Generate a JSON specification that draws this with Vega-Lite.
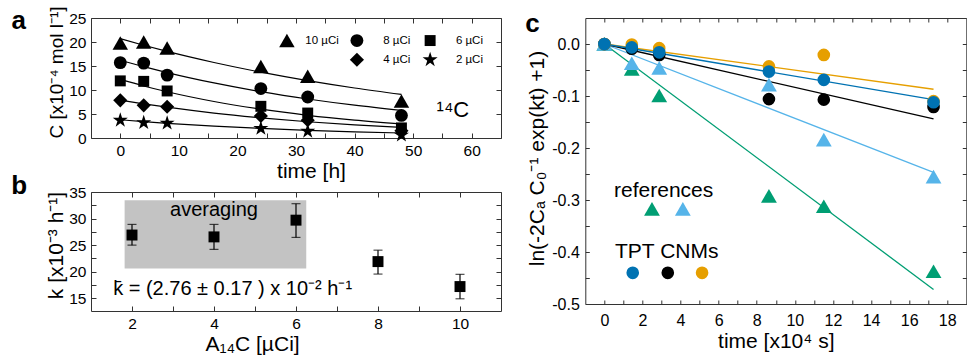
{
  "$schema": "https://vega.github.io/schema/vega-lite/v6.json",
  "padding": {"left": 10, "top": 5, "right": 0, "bottom": 0},
  "background": "white",
  "config": {
    "font": "Liberation Sans",
    "view": {"stroke": "#333", "strokeWidth": 1},
    "axis": {
      "grid": false, "domain": false, "tickColor": "#333", "tickSize": -5, "tickWidth": 1,
      "labelPadding": 10, "labelFont": "Liberation Sans", "labelFontSize": 15.5, "labelColor": "black",
      "titleFont": "Liberation Sans", "titleFontSize": 21, "titleFontWeight": "normal", "titleColor": "black",
      "labelOverlap": false, "labelFlush": false
    }
  },
  "datasets": {
    "a_pts": [
      {"t":0,"C":19.8,"s":"10"},{"t":4,"C":20.0,"s":"10"},{"t":8,"C":18.75,"s":"10"},{"t":24,"C":14.9,"s":"10"},{"t":32,"C":12.85,"s":"10"},{"t":48,"C":7.7,"s":"10"},
      {"t":0,"C":15.7,"s":"8"},{"t":4,"C":15.6,"s":"8"},{"t":8,"C":13.1,"s":"8"},{"t":24,"C":10.3,"s":"8"},{"t":32,"C":8.55,"s":"8"},{"t":48,"C":4.7,"s":"8"},
      {"t":0,"C":11.9,"s":"6"},{"t":4,"C":11.8,"s":"6"},{"t":8,"C":9.8,"s":"6"},{"t":24,"C":6.6,"s":"6"},{"t":32,"C":5.2,"s":"6"},{"t":48,"C":2.1,"s":"6"},
      {"t":0,"C":7.85,"s":"4"},{"t":4,"C":6.8,"s":"4"},{"t":8,"C":6.5,"s":"4"},{"t":24,"C":4.6,"s":"4"},{"t":32,"C":3.7,"s":"4"},{"t":48,"C":1.5,"s":"4"},
      {"t":0,"C":3.7,"s":"2"},{"t":4,"C":3.2,"s":"2"},{"t":8,"C":3.1,"s":"2"},{"t":24,"C":2.0,"s":"2"},{"t":32,"C":1.4,"s":"2"},{"t":48,"C":0.6,"s":"2"}
    ],
    "a_fit": [
      {"t":0,"C":20.7,"s":"10"},{"t":4,"C":19.33,"s":"10"},{"t":8,"C":18.04,"s":"10"},{"t":16,"C":15.73,"s":"10"},{"t":24,"C":13.71,"s":"10"},{"t":32,"C":11.95,"s":"10"},{"t":40,"C":10.42,"s":"10"},{"t":48,"C":9.09,"s":"10"},
      {"t":0,"C":16.2,"s":"8"},{"t":4,"C":14.86,"s":"8"},{"t":8,"C":13.63,"s":"8"},{"t":16,"C":11.47,"s":"8"},{"t":24,"C":9.65,"s":"8"},{"t":32,"C":8.12,"s":"8"},{"t":40,"C":6.83,"s":"8"},{"t":48,"C":5.75,"s":"8"},
      {"t":0,"C":12.2,"s":"6"},{"t":4,"C":10.84,"s":"6"},{"t":8,"C":9.63,"s":"6"},{"t":16,"C":7.6,"s":"6"},{"t":24,"C":6.0,"s":"6"},{"t":32,"C":4.73,"s":"6"},{"t":40,"C":3.74,"s":"6"},{"t":48,"C":2.95,"s":"6"},
      {"t":0,"C":7.9,"s":"4"},{"t":4,"C":7.12,"s":"4"},{"t":8,"C":6.42,"s":"4"},{"t":16,"C":5.19,"s":"4"},{"t":24,"C":4.2,"s":"4"},{"t":32,"C":3.39,"s":"4"},{"t":40,"C":2.74,"s":"4"},{"t":48,"C":2.21,"s":"4"},
      {"t":0,"C":3.8,"s":"2"},{"t":4,"C":3.42,"s":"2"},{"t":8,"C":3.06,"s":"2"},{"t":16,"C":2.47,"s":"2"},{"t":24,"C":1.99,"s":"2"},{"t":32,"C":1.6,"s":"2"},{"t":40,"C":1.29,"s":"2"},{"t":48,"C":1.04,"s":"2"}
    ],
    "a_leg": [
      {"t":28.45,"C":20.3,"s":"10","lt":31.6,"label":"10 µCi"},
      {"t":40.4,"C":20.3,"s":"8","lt":44.9,"label":"8 µCi"},
      {"t":52.9,"C":20.3,"s":"6","lt":57.3,"label":"6 µCi"},
      {"t":40.4,"C":16.3,"s":"4","lt":44.9,"label":"4 µCi"},
      {"t":52.9,"C":16.3,"s":"2","lt":57.3,"label":"2 µCi"}
    ],
    "a_note": [{"t":54.0,"C":4.4,"label":"¹⁴C"}],
    "a_letter": [{"t":-17.35,"C":22.65,"label":"a"}],
    "b_pts": [
      {"A":2,"k":26.9,"lo":25.0,"hi":28.9},
      {"A":4,"k":26.55,"lo":24.2,"hi":28.9},
      {"A":6,"k":29.7,"lo":26.45,"hi":32.8},
      {"A":8,"k":21.9,"lo":19.55,"hi":24.05},
      {"A":10,"k":17.2,"lo":14.9,"hi":19.5}
    ],
    "b_rect": [{"x1":1.82,"x2":6.25,"y1":20.6,"y2":33.45}],
    "b_avg": [{"A":4.0,"k":30.44,"label":"averaging"}],
    "b_formula": [{"A":1.54,"k":15.62,"label":"k̄ = (2.76 ± 0.17 ) x 10⁻² h⁻¹"}],
    "b_letter": [{"A":-0.75,"k":34.7,"label":"b"}],
    "c_pts": [
      {"t":0,"v":0.0,"s":"g"},{"t":1.44,"v":-0.048,"s":"g"},{"t":2.88,"v":-0.099,"s":"g"},{"t":8.64,"v":-0.292,"s":"g"},{"t":11.52,"v":-0.312,"s":"g"},{"t":17.28,"v":-0.437,"s":"g"},
      {"t":0,"v":0.0,"s":"lb"},{"t":1.44,"v":-0.037,"s":"lb"},{"t":2.88,"v":-0.046,"s":"lb"},{"t":8.64,"v":-0.078,"s":"lb"},{"t":11.52,"v":-0.184,"s":"lb"},{"t":17.28,"v":-0.255,"s":"lb"},
      {"t":0,"v":0.0,"s":"k"},{"t":1.44,"v":-0.009,"s":"k"},{"t":2.88,"v":-0.021,"s":"k"},{"t":8.64,"v":-0.106,"s":"k"},{"t":11.52,"v":-0.107,"s":"k"},{"t":17.28,"v":-0.121,"s":"k"},
      {"t":0,"v":0.0,"s":"o"},{"t":1.44,"v":-0.001,"s":"o"},{"t":2.88,"v":-0.008,"s":"o"},{"t":8.64,"v":-0.043,"s":"o"},{"t":11.52,"v":-0.021,"s":"o"},{"t":17.28,"v":-0.11,"s":"o"},
      {"t":0,"v":0.0,"s":"b"},{"t":1.44,"v":-0.0065,"s":"b"},{"t":2.88,"v":-0.016,"s":"b"},{"t":8.64,"v":-0.053,"s":"b"},{"t":11.52,"v":-0.069,"s":"b"},{"t":17.28,"v":-0.112,"s":"b"}
    ],
    "c_lines": [
      {"t":0,"v":0,"s":"g"},{"t":17.28,"v":-0.472,"s":"g"},
      {"t":0,"v":0,"s":"lb"},{"t":17.28,"v":-0.247,"s":"lb"},
      {"t":0,"v":0,"s":"k"},{"t":17.28,"v":-0.144,"s":"k"},
      {"t":0,"v":0,"s":"o"},{"t":17.28,"v":-0.087,"s":"o"},
      {"t":0,"v":0,"s":"b"},{"t":17.28,"v":-0.107,"s":"b"}
    ],
    "c_leg": [
      {"t":2.5,"v":-0.317,"s":"g"},{"t":4.12,"v":-0.317,"s":"lb"},
      {"t":3.33,"v":-0.44,"s":"k"},{"t":5.13,"v":-0.44,"s":"o"},{"t":1.49,"v":-0.44,"s":"b"}
    ],
    "c_legtext": [
      {"t":0.51,"v":-0.294,"label":"references"},
      {"t":0.56,"v":-0.4115,"label":"TPT CNMs"}
    ],
    "c_letter": [{"t":-3.77,"v":0.0237,"label":"c"}]
  },
  "hconcat": [
    {
      "vconcat": [
        {
          "width": 410, "height": 120,
          "layer": [
            {
              "data": {"name": "a_fit"},
              "mark": {"type": "line", "color": "black", "strokeWidth": 1.2, "interpolate": "monotone"},
              "encoding": {
                "x": {"field": "t", "type": "quantitative", "scale": {"domain": [-5, 65], "nice": false, "zero": false},
                      "axis": {"orient": "bottom", "values": [0,5,10,15,20,25,30,35,40,45,50,55,60],
                               "labelExpr": "datum.value % 10 === 0 ? datum.label : ''", "title": "time [h]", "titleX": 220, "titlePadding": 2}},
                "y": {"field": "C", "type": "quantitative", "scale": {"domain": [0, 25], "nice": false, "zero": false},
                      "axis": {"orient": "left", "values": [0,5,10,15,20,25], "title": "C [x10⁻⁴ mol l⁻¹]", "titleY": 54, "titlePadding": 2, "titleFontSize": 19}},
                "detail": {"field": "s"}
              }
            },
            {
              "data": {"name": "a_pts"},
              "mark": {"type": "point", "filled": true, "opacity": 1, "color": "black"},
              "encoding": {
                "x": {"field": "t", "type": "quantitative", "axis": null},
                "y": {"field": "C", "type": "quantitative", "axis": null},
                "shape": {"field": "s", "type": "nominal", "legend": null,
                          "scale": {"domain": ["10","8","6","4","2"], "range": ["triangle-up","circle","square","diamond","M0,-1L0.2245,-0.309L0.951,-0.309L0.363,0.118L0.588,0.809L0,0.382L-0.588,0.809L-0.363,0.118L-0.951,-0.309L-0.2245,-0.309Z"]}},
                "size": {"field": "s", "type": "nominal", "legend": null,
                         "scale": {"type": "ordinal", "domain": ["10","8","6","4","2"], "range": [240,165,120,200,250]}}
              }
            },
            {
              "data": {"name": "a_leg"},
              "mark": {"type": "point", "filled": true, "opacity": 1, "color": "black"},
              "encoding": {
                "x": {"field": "t", "type": "quantitative", "axis": null},
                "y": {"field": "C", "type": "quantitative", "axis": null},
                "shape": {"field": "s", "type": "nominal", "legend": null,
                          "scale": {"domain": ["10","8","6","4","2"], "range": ["triangle-up","circle","square","diamond","M0,-1L0.2245,-0.309L0.951,-0.309L0.363,0.118L0.588,0.809L0,0.382L-0.588,0.809L-0.363,0.118L-0.951,-0.309L-0.2245,-0.309Z"]}},
                "size": {"field": "s", "type": "nominal", "legend": null,
                         "scale": {"type": "ordinal", "domain": ["10","8","6","4","2"], "range": [240,165,120,200,250]}}
              }
            },
            {
              "data": {"name": "a_leg"},
              "mark": {"type": "text", "align": "left", "baseline": "middle", "fontSize": 11.5, "color": "black"},
              "encoding": {
                "x": {"field": "lt", "type": "quantitative", "axis": null},
                "y": {"field": "C", "type": "quantitative", "axis": null},
                "text": {"field": "label"}
              }
            },
            {
              "data": {"name": "a_note"},
              "mark": {"type": "text", "align": "left", "baseline": "alphabetic", "fontSize": 22, "color": "black"},
              "encoding": {
                "x": {"field": "t", "type": "quantitative", "axis": null},
                "y": {"field": "C", "type": "quantitative", "axis": null},
                "text": {"field": "label"}
              }
            },
            {
              "data": {"name": "a_letter"},
              "mark": {"type": "text", "align": "center", "baseline": "alphabetic", "fontSize": 26, "fontWeight": "bold", "color": "black"},
              "encoding": {
                "x": {"field": "t", "type": "quantitative", "axis": null},
                "y": {"field": "C", "type": "quantitative", "axis": null},
                "text": {"field": "label"}
              }
            },
            {
              "data": {"name": "a_pts"},
              "mark": {"type": "point", "opacity": 0},
              "encoding": {
                "x": {"field": "t", "type": "quantitative", "axis": {"orient": "top", "values": [0,5,10,15,20,25,30,35,40,45,50,55,60], "labels": false, "title": null}},
                "y": {"field": "C", "type": "quantitative", "axis": {"orient": "right", "values": [0,5,10,15,20,25], "labels": false, "title": null}}
              }
            }
          ],
          "resolve": {"axis": {"x": "independent", "y": "independent"}}
        },
        {
          "width": 410, "height": 119,
          "layer": [
            {
              "data": {"name": "b_rect"},
              "mark": {"type": "rect", "color": "#c3c3c3"},
              "encoding": {
                "x": {"field": "x1", "type": "quantitative", "scale": {"domain": [1, 11], "nice": false, "zero": false}, "axis": null},
                "x2": {"field": "x2"},
                "y": {"field": "y1", "type": "quantitative", "scale": {"domain": [12.6, 35], "nice": false, "zero": false}, "axis": null},
                "y2": {"field": "y2"}
              }
            },
            {
              "data": {"name": "b_pts"},
              "mark": {"type": "errorbar", "ticks": true, "size": 9, "thickness": 1.2, "color": "black"},
              "encoding": {
                "x": {"field": "A", "type": "quantitative", "axis": null},
                "y": {"field": "lo", "type": "quantitative", "axis": null},
                "y2": {"field": "hi"}
              }
            },
            {
              "data": {"name": "b_pts"},
              "mark": {"type": "point", "shape": "square", "filled": true, "opacity": 1, "size": 120, "color": "black"},
              "encoding": {
                "x": {"field": "A", "type": "quantitative",
                      "axis": {"orient": "bottom", "values": [2,3,4,5,6,7,8,9,10], "labelExpr": "datum.value % 2 === 0 ? datum.label : ''",
                               "title": "A₁₄C [µCi]", "titleX": 161, "titlePadding": 2}},
                "y": {"field": "k", "type": "quantitative",
                      "axis": {"orient": "left", "values": [15,17.5,20,22.5,25,27.5,30,32.5,35], "labelExpr": "datum.value % 5 === 0 ? datum.label : ''",
                               "title": "k [x10⁻³ h⁻¹]", "titleY": 53, "titlePadding": 2}}
              }
            },
            {
              "data": {"name": "b_avg"},
              "mark": {"type": "text", "align": "center", "baseline": "alphabetic", "fontSize": 20, "color": "black"},
              "encoding": {
                "x": {"field": "A", "type": "quantitative", "axis": null},
                "y": {"field": "k", "type": "quantitative", "axis": null},
                "text": {"field": "label"}
              }
            },
            {
              "data": {"name": "b_formula"},
              "mark": {"type": "text", "align": "left", "baseline": "alphabetic", "fontSize": 20, "color": "black"},
              "encoding": {
                "x": {"field": "A", "type": "quantitative", "axis": null},
                "y": {"field": "k", "type": "quantitative", "axis": null},
                "text": {"field": "label"}
              }
            },
            {
              "data": {"name": "b_letter"},
              "mark": {"type": "text", "align": "center", "baseline": "alphabetic", "fontSize": 26, "fontWeight": "bold", "color": "black"},
              "encoding": {
                "x": {"field": "A", "type": "quantitative", "axis": null},
                "y": {"field": "k", "type": "quantitative", "axis": null},
                "text": {"field": "label"}
              }
            },
            {
              "data": {"name": "b_pts"},
              "mark": {"type": "point", "opacity": 0},
              "encoding": {
                "x": {"field": "A", "type": "quantitative", "axis": {"orient": "top", "values": [2,3,4,5,6,7,8,9,10], "labels": false, "title": null}},
                "y": {"field": "k", "type": "quantitative", "axis": {"orient": "right", "values": [15,17.5,20,22.5,25,27.5,30,32.5,35], "labels": false, "title": null}}
              }
            }
          ],
          "resolve": {"axis": {"x": "independent", "y": "independent"}}
        }
      ],
      "spacing": 54,
      "bounds": "flush",
      "resolve": {"scale": {"shape": "independent", "size": "independent", "color": "independent"}}
    },
    {
      "width": 381, "height": 286,
      "layer": [
        {
          "data": {"name": "c_lines"},
          "mark": {"type": "line", "strokeWidth": 1.3},
          "encoding": {
            "x": {"field": "t", "type": "quantitative", "scale": {"domain": [-1, 19], "nice": false, "zero": false}, "axis": null},
            "y": {"field": "v", "type": "quantitative", "scale": {"domain": [-0.5, 0.05], "nice": false, "zero": false}, "axis": null},
            "color": {"field": "s", "type": "nominal", "legend": null,
                      "scale": {"domain": ["g","lb","k","o","b"], "range": ["#009E73","#56B4E9","#000000","#E69F00","#0072B2"]}}
          }
        },
        {
          "data": {"name": "c_pts"},
          "mark": {"type": "point", "filled": true, "opacity": 1},
          "encoding": {
            "x": {"field": "t", "type": "quantitative",
                  "axis": {"orient": "bottom", "values": [0,1,2,3,4,5,6,7,8,9,10,11,12,13,14,15,16,17,18],
                           "labelExpr": "datum.value % 2 === 0 ? datum.label : ''", "title": "time [x10⁴ s]", "titlePadding": 2, "tickSize": -4, "labelPadding": 12, "labelFontSize": 16}},
            "y": {"field": "v", "type": "quantitative",
                  "axis": {"orient": "left", "values": [-0.5,-0.45,-0.4,-0.35,-0.3,-0.25,-0.2,-0.15,-0.1,-0.05,0],
                           "labelExpr": "round(datum.value*20) % 2 === 0 ? replace(format(datum.value, '.1f'), '−', '-') : ''",
                           "title": "ln(-2Cₐ C₀⁻¹ exp(kt) +1)", "titleY": 140, "titlePadding": 4, "tickSize": -4, "labelPadding": 10, "labelFontSize": 16}},
            "color": {"field": "s", "type": "nominal", "legend": null,
                      "scale": {"domain": ["g","lb","k","o","b"], "range": ["#009E73","#56B4E9","#000000","#E69F00","#0072B2"]}},
            "shape": {"field": "s", "type": "nominal", "legend": null,
                      "scale": {"domain": ["g","lb","k","o","b"], "range": ["triangle-up","triangle-up","circle","circle","circle"]}},
            "size": {"field": "s", "type": "nominal", "legend": null,
                     "scale": {"type": "ordinal", "domain": ["g","lb","k","o","b"], "range": [250,250,160,160,160]}}
          }
        },
        {
          "data": {"name": "c_leg"},
          "mark": {"type": "point", "filled": true, "opacity": 1},
          "encoding": {
            "x": {"field": "t", "type": "quantitative", "axis": null},
            "y": {"field": "v", "type": "quantitative", "axis": null},
            "color": {"field": "s", "type": "nominal", "legend": null,
                      "scale": {"domain": ["g","lb","k","o","b"], "range": ["#009E73","#56B4E9","#000000","#E69F00","#0072B2"]}},
            "shape": {"field": "s", "type": "nominal", "legend": null,
                      "scale": {"domain": ["g","lb","k","o","b"], "range": ["triangle-up","triangle-up","circle","circle","circle"]}},
            "size": {"field": "s", "type": "nominal", "legend": null,
                     "scale": {"type": "ordinal", "domain": ["g","lb","k","o","b"], "range": [250,250,160,160,160]}}
          }
        },
        {
          "data": {"name": "c_legtext"},
          "mark": {"type": "text", "align": "left", "baseline": "alphabetic", "fontSize": 21, "color": "black"},
          "encoding": {
            "x": {"field": "t", "type": "quantitative", "axis": null},
            "y": {"field": "v", "type": "quantitative", "axis": null},
            "text": {"field": "label"}
          }
        },
        {
          "data": {"name": "c_letter"},
          "mark": {"type": "text", "align": "center", "baseline": "alphabetic", "fontSize": 26, "fontWeight": "bold", "color": "black"},
          "encoding": {
            "x": {"field": "t", "type": "quantitative", "axis": null},
            "y": {"field": "v", "type": "quantitative", "axis": null},
            "text": {"field": "label"}
          }
        },
        {
          "data": {"name": "c_pts"},
          "mark": {"type": "point", "opacity": 0},
          "encoding": {
            "x": {"field": "t", "type": "quantitative", "axis": {"orient": "top", "values": [0,1,2,3,4,5,6,7,8,9,10,11,12,13,14,15,16,17,18], "labels": false, "title": null, "tickSize": -4}},
            "y": {"field": "v", "type": "quantitative", "axis": {"orient": "right", "values": [-0.5,-0.45,-0.4,-0.35,-0.3,-0.25,-0.2,-0.15,-0.1,-0.05,0], "labels": false, "title": null, "tickSize": -4}}
          }
        }
      ],
      "resolve": {"axis": {"x": "independent", "y": "independent"}}
    }
  ],
  "spacing": 494.3,
  "bounds": "flush",
  "resolve": {"scale": {"shape": "independent", "size": "independent", "color": "independent"}}
}
